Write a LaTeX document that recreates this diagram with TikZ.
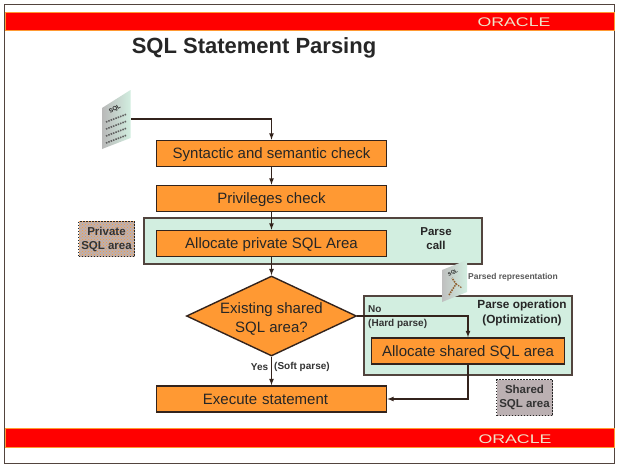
\documentclass[tikz,border=0pt]{standalone}
\usepackage{fontspec}
\setmainfont{Liberation Sans}
\usetikzlibrary{shapes,arrows}
\usetikzlibrary{shapes.geometric}
\usetikzlibrary{patterns}

\definecolor{boxorange}{HTML}{FF9933}
\definecolor{paneteal}{HTML}{D2EEE0}
\definecolor{linebrown}{HTML}{33231C}
\definecolor{memgray}{HTML}{BBB0B2}
\definecolor{bandred}{HTML}{FF0000}
\definecolor{logotan}{HTML}{EFE4C8}

\tikzset{
    stepbox/.style={draw=linebrown, line width=1.6pt, fill=boxorange, font=\fontsize{15}{17}\selectfont,
        text=black!85, inner sep=0pt, text height=12pt, text depth=2pt},
    pane/.style={draw=linebrown!85, line width=1.1pt, fill=paneteal, inner sep=0pt},
    memarea/.style={draw=black!85, line width=1.5pt, dash pattern=on 1.5pt off 1.5pt, fill=memgray,
        font=\bfseries\fontsize{11.5}{14}\selectfont, align=center, inner sep=0pt, text=black!80},
    flow/.style={draw=linebrown, line width=1.2pt, -latex},
    smalllabel/.style={font=\bfseries\fontsize{10}{12}\selectfont, text=black!80, inner sep=0pt},
    panelabel/.style={font=\bfseries\fontsize{11.8}{15}\selectfont, align=center, text=black!85, inner sep=0pt},
    redband/.style={draw=boxorange, line width=.6pt, fill=bandred, inner sep=0pt},
    logo/.style={font=\fontsize{12.5}{13}\selectfont, text=logotan, xscale=1.42, inner sep=0pt}
}

\begin{document}
\begin{tikzpicture}[x=1pt,y=-1pt]
    \useasboundingbox (0,0) rectangle (618,466);
    \fill[white] (0,0) rectangle (618,466);

    % slide frame and red bands
    \draw[linebrown!85, line width=1pt] (4.5,4) rectangle (614.5,463);
    \node[redband, minimum width=609pt, minimum height=18pt] (topband) at (309.5,21.5) {};
    \node[redband, minimum width=609pt, minimum height=19pt] (bottomband) at (309.5,438) {};
    \node[logo] (toplogo) at (514,22) {ORACLE};
    \node[logo] (bottomlogo) at (515,439) {ORACLE};
    \node[font=\bfseries\fontsize{22}{26}\selectfont, text=black!85, inner sep=0pt] (title) at (254,48) {SQL Statement Parsing};

    % panes behind the boxes
    \node[pane, minimum width=338pt, minimum height=46pt] (parsecall) at (313,241) {};
    \node[pane, minimum width=208pt, minimum height=79pt] (parseop) at (468,335.5) {};
    \node[panelabel, font=\bfseries\fontsize{11.5}{14}\selectfont] (parsecalltext) at (436,239) {Parse\\call};
    \node[panelabel] (parseoptext) at (522,312.5) {Parse operation\\(Optimization)};

    % sql document
    \shade[left color=gray!55, right color=paneteal] (102,108) -- (130.5,90) -- (130.5,138) -- (102,149) -- cycle;
    \foreach \ya in {122,129,136,143}
        \draw[gray!75!black, line width=1.6pt, dash pattern=on 1.5pt off 1pt] (106,\ya) -- (127,\ya-8);
    \node[font=\bfseries\fontsize{6}{7}\selectfont, rotate=30, inner sep=0pt, text=black!85] (sqldoc) at (115,109) {SQL};
    \coordinate (sqlout) at (131,119);

    % parsed document
    \shade[left color=gray!50, right color=paneteal] (442,270) -- (467,260) -- (467,292) -- (442,302) -- cycle;
    \draw[brown!75!black, line width=1.6pt, dash pattern=on 1.5pt off 1pt] (449,295) -- (456,284) -- (452,278);
    \draw[brown!75!black, line width=1.2pt, dash pattern=on 1.5pt off 1pt] (456,284) -- (462,288);
    \node[font=\bfseries\fontsize{5}{6}\selectfont, rotate=25, inner sep=0pt, text=black!85] (parseddoc) at (453,273) {SQL};
    \node[font=\bfseries\fontsize{8.5}{10}\selectfont, text=black!65, inner sep=0pt] (parsedtext) at (513,277) {Parsed representation};

    % flow boxes
    \node[stepbox, minimum width=230pt, minimum height=26pt] (syntax) at (271.5,153.5) {Syntactic and semantic check};
    \node[stepbox, minimum width=230pt, minimum height=26pt] (privileges) at (271.5,198.5) {Privileges check};
    \node[stepbox, minimum width=230pt, minimum height=26pt] (allocprivate) at (271.5,243.5) {Allocate private SQL Area};
    \node[draw=linebrown, fill=boxorange, diamond, aspect=2.1, line width=1.4pt, inner sep=0pt,
        minimum width=170pt, minimum height=80pt] (existing) at (271.5,316) {};
    \node[font=\fontsize{15}{18.5}\selectfont, align=center, text=black!85, inner sep=0pt] (existingtext) at (271.5,319) {Existing shared\\SQL area?};
    \node[stepbox, minimum width=230pt, minimum height=26pt, text width=230pt, align=center] (execute) at (271.5,399) {Execute statement\hspace*{12pt}};
    \node[stepbox, minimum width=193pt, minimum height=26pt] (allocshared) at (468,351) {Allocate shared SQL area};

    % memory areas
    \node[memarea, minimum width=56pt, minimum height=35pt, preaction={fill=memgray},
        pattern=crosshatch dots, pattern color=boxorange] (privatearea) at (106.5,239) {};
    \node[font=\bfseries\fontsize{11.5}{14}\selectfont, align=center, inner sep=0pt, text=black!80] (privatelabel) at (106.5,239) {Private\\SQL area};
    \node[memarea, minimum width=56pt, minimum height=36pt] (sharedarea) at (524.5,397.5) {Shared\\SQL area};

    % connectors
    \draw[flow] (sqlout) -| (syntax.north);
    \draw[flow] (syntax) -- (privileges);
    \draw[flow] (privileges) -- (allocprivate);
    \draw[flow] (allocprivate) -- (existing);
    \draw[flow] (existing) -- (execute);
    \draw[flow] (existing.east) -| (allocshared.north);
    \draw[flow] (allocshared.south) |- (execute.east);

    % connector labels
    \node[smalllabel] (yeslabel) at (259.5,367) {Yes};
    \node[smalllabel, anchor=west] (softlabel) at (274,367) {(Soft parse)};
    \node[smalllabel, anchor=west] (nolabel) at (368,309) {No};
    \node[smalllabel, anchor=west] (hardlabel) at (368,323.5) {(Hard parse)};
\end{tikzpicture}
\end{document}
